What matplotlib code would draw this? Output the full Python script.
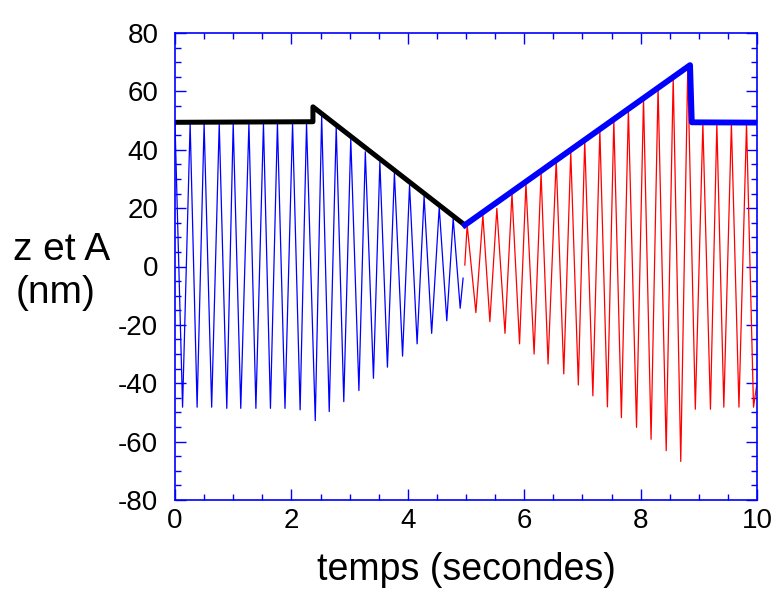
import numpy as np
import matplotlib
matplotlib.use('Agg')
import matplotlib.pyplot as plt
from matplotlib.ticker import MultipleLocator

plt.rcParams['font.family'] = ['Liberation Sans', 'DejaVu Sans']
plt.rcParams['axes.unicode_minus'] = False

# oscillation, first half (blue) : peaks and troughs
blue_peak_t = [0.00, 0.26, 0.50, 0.76, 1.00, 1.27, 1.52, 1.76, 2.02, 2.26,
               2.52, 2.77, 3.02, 3.27, 3.52, 3.77, 4.03, 4.28, 4.54, 4.78]
blue_peak = [49, 49, 49, 49, 49, 49, 49, 49, 49, 49,
             51.6, 47.9, 43.9, 39.3, 35.9, 32.1, 27.9, 24.1, 20.3, 16.5]
blue_trough_t = [0.13, 0.38, 0.63, 0.89, 1.13, 1.39, 1.64, 1.89, 2.15, 2.41,
                 2.65, 2.90, 3.16, 3.41, 3.65, 3.91, 4.16, 4.41, 4.67, 4.90]
blue_trough = [-48.2, -48.2, -48.2, -48.6, -48.6, -48.6, -48.6, -48.6, -49.1, -52.8,
               -49.7, -46.3, -42.5, -38.3, -34.5, -30.7, -26.5, -22.9, -18.6, -14.3]
blue_end = (4.95, -4.0)

# oscillation, second half (red)
red_start = (4.98, 0.5)
red_peak_t = [5.02, 5.29, 5.53, 5.79, 6.03, 6.29, 6.55, 6.80, 7.04, 7.30,
              7.54, 7.79, 8.05, 8.30, 8.56, 8.81, 9.07, 9.31, 9.56, 9.82]
red_peak = [14.2, 17.6, 19.9, 25.1, 28.5, 32.1, 36.5, 39.3, 43.1, 46.7,
            50.2, 53.8, 57.6, 61.4, 64.8, 68.2, 49, 49, 49, 49]
red_trough_t = [5.17, 5.41, 5.67, 5.92, 6.17, 6.41, 6.68, 6.93, 7.18, 7.43,
                7.67, 7.93, 8.18, 8.44, 8.69, 8.94, 9.20, 9.43, 9.69, 9.94]
red_trough = [-15.8, -18.9, -22.9, -26.5, -30.0, -33.4, -36.8, -40.6, -44.3, -48.1,
              -51.8, -55.1, -59.2, -63.1, -66.8, -48.9, -48.9, -48.2, -48.2, -48.2]
red_end = (10.0, -40.0)

# piezo position z (thick lines)
z_black_t = [0.0, 2.37, 2.37, 4.98]
z_black = [49.4, 49.6, 54.7, 14.2]
z_blue_t = [4.98, 8.85, 8.88, 10.0]
z_blue = [14.2, 69.0, 49.4, 49.3]


def zigzag(pt, pv, tt, tv):
    t = np.empty(2 * len(pt))
    v = np.empty(2 * len(pt))
    t[0::2] = pt
    t[1::2] = tt
    v[0::2] = pv
    v[1::2] = tv
    return t, v


bt, bv = zigzag(blue_peak_t, blue_peak, blue_trough_t, blue_trough)
bt = np.append(bt, blue_end[0])
bv = np.append(bv, blue_end[1])

rt, rv = zigzag(red_peak_t, red_peak, red_trough_t, red_trough)
rt = np.concatenate([[red_start[0]], rt, [red_end[0]]])
rv = np.concatenate([[red_start[1]], rv, [red_end[1]]])

fig = plt.figure(figsize=(7.77, 5.90), dpi=100)
ax = fig.add_axes([175/777, 90/590, 582/777, 467/590])

ax.plot(bt, bv, color='#0000ff', lw=0.9)
ax.plot(rt, rv, color='#ff0000', lw=0.9)
ax.plot(z_black_t, z_black, color='black', lw=3.6)
ax.plot(z_blue_t, z_blue, color='#0000ff', lw=4.2)

ax.set_xlim(0, 10)
ax.set_ylim(-80, 80)
ax.xaxis.set_major_locator(MultipleLocator(2))
ax.xaxis.set_minor_locator(MultipleLocator(0.5))
ax.yaxis.set_major_locator(MultipleLocator(20))
ax.yaxis.set_minor_locator(MultipleLocator(5))

ax.tick_params(which='both', direction='in', top=True, right=True,
               color='#0000ff', width=1, labelsize=20)
ax.tick_params(which='major', length=8)
ax.tick_params(which='minor', length=4.5)
ax.tick_params(axis='x', pad=6)
ax.tick_params(axis='y', pad=12)
for s in ax.spines.values():
    s.set_color('#0000ff')
    s.set_linewidth(1.2)

ax.set_xlabel('temps (secondes)', fontsize=27, labelpad=13)
fig.text(13/777, 1 - 260/590, 'z et A', fontsize=28, ha='left', va='baseline')
fig.text(16/777, 1 - 303/590, '(nm)', fontsize=28, ha='left', va='baseline')

plt.savefig('out.png', dpi=100)
